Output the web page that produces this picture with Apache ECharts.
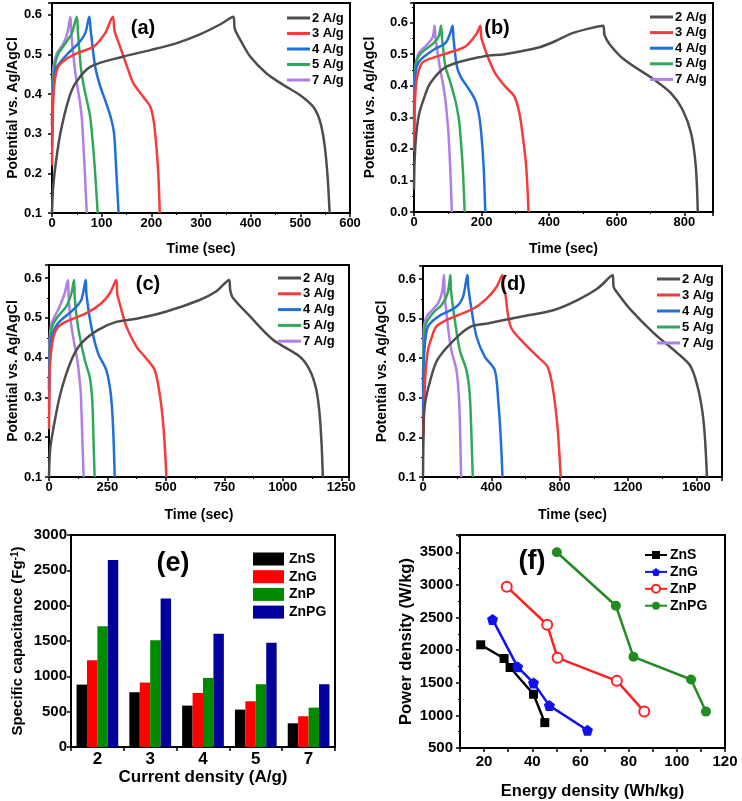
<!DOCTYPE html>
<html>
<head>
<meta charset="utf-8">
<script src="https://cdn.jsdelivr.net/npm/echarts@6/dist/echarts.min.js"></script>
<style>
  html, body { margin: 0; padding: 0; background: #fff; }
  #chart { width: 742px; height: 801px; }
</style>
</head>
<body>
<div id="chart"></div>
<script>
// ---- GCD curves, [time (s), potential (V)] ----
const rates = ['2 A/g', '3 A/g', '4 A/g', '5 A/g', '7 A/g'];

// (a)
const a2 = [[0,0.1],[2,0.16],[6.6,0.216],[16.7,0.30],[33,0.385],[47,0.427],[77,0.469],[144,0.495],[198,0.511],[250,0.528],[300,0.552],[340,0.577],[365,0.595],[368,0.565],[380,0.535],[399,0.495],[432,0.452],[466,0.423],[499,0.398],[526,0.368],[540,0.33],[549,0.27],[555,0.19],[559,0.1]];
const a3 = [[0,0.22],[1.5,0.33],[3,0.4],[7,0.445],[13,0.47],[30,0.49],[50,0.503],[84,0.52],[107,0.554],[122.6,0.595],[126,0.56],[137,0.52],[151,0.47],[164,0.427],[184,0.393],[198,0.368],[205,0.33],[210,0.27],[214,0.2],[217,0.1]];
const a4 = [[0,0.27],[1.5,0.38],[3,0.42],[6,0.46],[10,0.47],[30,0.5],[53,0.528],[67,0.554],[75,0.595],[78,0.56],[87,0.469],[97,0.42],[107,0.385],[118,0.343],[125,0.30],[129,0.216],[134,0.1]];
const a5 = [[0,0.32],[1.5,0.41],[3,0.45],[7,0.48],[13,0.503],[27,0.528],[40,0.554],[50,0.595],[52,0.56],[58,0.469],[64,0.42],[70,0.385],[76,0.35],[80.5,0.30],[86,0.216],[92,0.1]];
const a7 = [[0,0.32],[1,0.42],[3,0.47],[10,0.503],[23,0.528],[31,0.554],[37,0.595],[39,0.55],[45.5,0.469],[51,0.42],[55.6,0.385],[60,0.34],[62,0.30],[65.6,0.216],[70,0.1]];

// (b)
const b2 = [[0,0.07],[2,0.17],[7,0.25],[15,0.31],[28,0.355],[48,0.408],[98,0.461],[206,0.493],[268,0.5],[366,0.52],[416,0.54],[465,0.565],[514,0.58],[560,0.59],[564,0.56],[580,0.53],[623,0.482],[711,0.419],[760,0.377],[795,0.324],[820,0.25],[834,0.145],[840,0.0]];
const b3 = [[0,0.19],[1.5,0.28],[3,0.35],[8,0.42],[24,0.472],[60,0.49],[98,0.503],[152,0.524],[186,0.566],[196,0.59],[200,0.55],[219,0.49],[240,0.44],[268,0.40],[297,0.366],[312,0.313],[322,0.24],[332,0.145],[339,0.0]];
const b4 = [[0,0.25],[1.5,0.36],[3,0.42],[8,0.46],[19,0.482],[58,0.514],[93,0.535],[107,0.566],[114,0.59],[117,0.55],[127,0.461],[140,0.425],[157,0.398],[181,0.355],[192,0.31],[199,0.25],[206,0.145],[211,0.0]];
const b5 = [[0,0.29],[1.5,0.39],[3,0.44],[8,0.48],[21,0.503],[58,0.535],[73,0.556],[80,0.59],[83,0.55],[93,0.461],[105,0.42],[122,0.355],[132,0.3],[137,0.25],[144,0.145],[150,0.0]];
const b7 = [[0,0.3],[1,0.4],[3,0.45],[7,0.48],[14,0.503],[43,0.535],[56,0.556],[61,0.59],[64,0.55],[76,0.461],[85,0.41],[93,0.355],[98,0.3],[102,0.25],[107,0.145],[112,0.0]];

// (c)
const c2 = [[0,0.1],[5,0.17],[20,0.226],[49,0.31],[96,0.394],[138,0.436],[210,0.47],[288,0.49],[374,0.498],[502,0.516],[644,0.545],[716,0.567],[770,0.595],[775,0.57],[787,0.55],[858,0.505],[958,0.445],[1072,0.403],[1115,0.369],[1143,0.32],[1157,0.26],[1166,0.18],[1171,0.1]];
const c3 = [[0,0.22],[2,0.32],[4,0.38],[15,0.44],[30,0.47],[60,0.487],[160,0.512],[224,0.537],[260,0.562],[288,0.595],[292,0.56],[302,0.537],[331,0.478],[374,0.428],[416,0.398],[452,0.369],[473,0.31],[487,0.243],[496,0.17],[502,0.1]];
const c4 = [[0,0.27],[2,0.37],[4,0.42],[15,0.46],[39,0.487],[103,0.52],[138,0.545],[157,0.595],[160,0.56],[181,0.478],[210,0.411],[245,0.369],[264,0.31],[274,0.226],[281,0.1]];
const c5 = [[0,0.32],[2,0.4],[4,0.44],[12,0.475],[32,0.499],[74,0.529],[96,0.562],[107,0.595],[110,0.55],[124,0.478],[153,0.394],[174,0.352],[185,0.293],[190,0.2],[195,0.1]];
const c7 = [[0,0.32],[1.5,0.41],[3,0.45],[10,0.485],[24,0.503],[46,0.529],[67,0.562],[81,0.595],[84,0.55],[96,0.478],[121,0.394],[130,0.35],[136,0.31],[141,0.226],[148,0.1]];

// (d)
const d2 = [[0,0.1],[3,0.2],[10,0.28],[40,0.34],[84,0.396],[181,0.446],[279,0.48],[377,0.488],[572,0.505],[767,0.522],[904,0.547],[1021,0.576],[1110,0.61],[1116,0.58],[1138,0.565],[1216,0.522],[1352,0.463],[1489,0.413],[1567,0.379],[1616,0.312],[1645,0.228],[1662,0.1]];
const d3 = [[0,0.2],[8,0.3],[16,0.37],[29,0.42],[49,0.45],[78,0.48],[156,0.5],[293,0.525],[371,0.55],[430,0.58],[465,0.61],[470,0.58],[481,0.564],[513,0.48],[591,0.438],[670,0.404],[728,0.379],[758,0.329],[787,0.228],[806,0.1]];
const d4 = [[0,0.25],[4,0.38],[10,0.43],[29,0.48],[88,0.505],[195,0.53],[234,0.555],[260,0.61],[265,0.58],[285,0.52],[313,0.455],[361,0.404],[420,0.37],[440,0.295],[455,0.2],[465,0.1]];
const d5 = [[0,0.32],[3,0.42],[8,0.46],[20,0.49],[60,0.515],[110,0.535],[145,0.565],[160,0.61],[164,0.57],[186,0.497],[215,0.421],[254,0.37],[273,0.312],[284,0.2],[291,0.1]];
const d7 = [[0,0.33],[2,0.43],[6,0.48],[20,0.505],[50,0.52],[90,0.54],[113,0.57],[123,0.61],[127,0.56],[146,0.48],[166,0.42],[196,0.37],[211,0.295],[218,0.2],[223,0.1]];

// (e) specific capacitance (F/g)
const eCats = ['2', '3', '4', '5', '7'];
const eZnS  = [883, 775, 586, 529, 335];
const eZnG  = [1228, 912, 765, 647, 435];
const eZnP  = [1710, 1512, 978, 888, 557];
const eZnPG = [2645, 2102, 1601, 1474, 888];

// (f) Ragone, [energy (Wh/kg), power (W/kg)]
const fZnS  = [[18.6,2082],[28.3,1872],[30.8,1734],[40.5,1324],[45.2,889]];
const fZnG  = [[23.5,2471],[33.9,1744],[40.5,1498],[47.1,1150],[62.9,771]];
const fZnP  = [[29.4,2973],[46.2,2389],[50.5,1882],[75.1,1529],[86.5,1058]];
const fZnPG = [[50.2,3500],[74.7,2681],[82.0,1898],[105.9,1550],[112.1,1058]];

const materials = ['ZnS', 'ZnG', 'ZnP', 'ZnPG'];

// ---- styling ----
const FONT = 'Liberation Sans, Arial, sans-serif';
const rateColors = ['#4d4d4d', '#f53b3b', '#1f6fdb', '#30a85a', '#b07ee8'];
const barColors = ['#000000', '#ff0000', '#008a00', '#00009c'];
const ragoneColors = ['#000000', '#1010f0', '#ff2020', '#228b22'];
const pentagon = 'path://M0,-10 L9.51,-3.09 L5.88,8.09 L-5.88,8.09 L-9.51,-3.09 Z';

function onlyMultiples(step, digits) {
  return function (v) {
    const k = v / step;
    if (Math.abs(k - Math.round(k)) > 1e-6) return '';
    return digits == null ? String(Math.round(v)) : v.toFixed(digits);
  };
}

function valueAxis(gi, opt) {
  return {
    type: 'value', gridIndex: gi,
    min: opt.min, max: opt.max, interval: opt.interval,
    name: opt.name, nameLocation: 'middle', nameGap: opt.nameGap,
    nameTextStyle: Object.assign({ fontFamily: FONT, fontWeight: 'bold', fontSize: opt.nameSize || 14, color: '#000' }, opt.nameExtra || {}),
    axisLine: { show: true, onZero: false, lineStyle: { color: '#000', width: 2 } },
    axisTick: { show: true, length: 4, lineStyle: { color: '#000', width: 1.5 } },
    minorTick: { show: !!opt.minor, splitNumber: 2, length: 2, lineStyle: { color: '#000', width: 1 } },
    splitLine: { show: false },
    axisLabel: {
      fontFamily: FONT, fontWeight: 'bold', fontSize: opt.labelSize || 13, color: '#000',
      margin: opt.margin, formatter: onlyMultiples(opt.labelStep || opt.interval, opt.digits)
    }
  };
}

const grids = [
  { left: 52,  top: 3,   width: 298, height: 210 },
  { left: 414, top: 3,   width: 299, height: 209 },
  { left: 49,  top: 265, width: 300, height: 212 },
  { left: 423, top: 266, width: 299, height: 211 },
  { left: 71,  top: 535, width: 264, height: 212 },
  { left: 460, top: 535, width: 265, height: 213 }
].map(g => Object.assign({ show: true, borderColor: '#000', borderWidth: 2, backgroundColor: '#fff', containLabel: false }, g));

const gcdPanels = [
  { curves: [a2, a3, a4, a5, a7], xMax: 600,  xInt: 100, yMin: 0.1, yMax: 0.63, xGap: 29, yGap: 32, legendLeft: 282, legendTop: 6,   legendGap: 1.5 },
  { curves: [b2, b3, b4, b5, b7], xMax: 885,  xInt: 200, yMin: 0.0, yMax: 0.662, xGap: 30, yGap: 37, legendLeft: 645, legendTop: 5,   legendGap: 1.6 },
  { curves: [c2, c3, c4, c5, c7], xMax: 1283, xInt: 250, yMin: 0.1, yMax: 0.633, xGap: 31, yGap: 28, legendLeft: 273, legendTop: 266, legendGap: 1.8 },
  { curves: [d2, d3, d4, d5, d7], xMax: 1750, xInt: 400, yMin: 0.1, yMax: 0.633, xGap: 31, yGap: 34, legendLeft: 652, legendTop: 267, legendGap: 2 }
];
const yMargins = [10, 6, 7, 7];

const xAxis = [], yAxis = [], series = [], legend = [];

// Ragone series first so the (f) legend picks up line + symbol icons
const fData = [fZnS, fZnG, fZnP, fZnPG];
const fSymbols = ['rect', pentagon, 'emptyCircle', 'circle'];
const fSizes = [9, 11, 10, 10];
materials.forEach((m, i) => {
  series.push({
    type: 'line', name: m, xAxisIndex: 5, yAxisIndex: 5, data: fData[i],
    symbol: fSymbols[i], symbolSize: fSizes[i], showSymbol: true,
    lineStyle: { color: ragoneColors[i], width: 2.5 },
    itemStyle: { color: ragoneColors[i], borderColor: ragoneColors[i], borderWidth: i === 2 ? 2 : 0 },
    animation: false, z: 3
  });
});

gcdPanels.forEach((p, gi) => {
  xAxis.push(valueAxis(gi, {
    min: 0, max: p.xMax, interval: p.xInt, name: 'Time (sec)', nameGap: p.xGap,
    margin: 4, minor: true
  }));
  yAxis.push(valueAxis(gi, {
    min: p.yMin, max: p.yMax, interval: 0.1, name: 'Potential vs. Ag/AgCl', nameGap: p.yGap,
    margin: yMargins[gi], digits: 1, minor: true
  }));
  p.curves.forEach((c, i) => {
    series.push({
      type: 'line', name: rates[i], xAxisIndex: gi, yAxisIndex: gi, data: c,
      showSymbol: false, symbol: 'none', smooth: 0.3,
      lineStyle: { color: rateColors[i], width: 2.5 },
      itemStyle: { color: rateColors[i] },
      animation: false, z: 2 + (4 - i) * 0.01
    });
  });
  legend.push({
    data: rates, orient: 'vertical', left: p.legendLeft, top: p.legendTop,
    icon: 'rect', itemWidth: 23, itemHeight: 3, itemGap: p.legendGap, selectedMode: false,
    textStyle: { fontFamily: FONT, fontWeight: 'bold', fontSize: 13, lineHeight: 14, color: '#000', padding: [0, 0, 0, -3] }
  });
});

// (e) axes
xAxis.push({
  type: 'category', gridIndex: 4, data: eCats,
  name: 'Current density (A/g)', nameLocation: 'middle', nameGap: 19,
  nameTextStyle: { fontFamily: FONT, fontWeight: 'bold', fontSize: 17, color: '#000' },
  axisLine: { lineStyle: { color: '#000', width: 2 } },
  axisTick: { show: true, length: 4, lineStyle: { color: '#000', width: 1.5 } },
  axisLabel: { fontFamily: FONT, fontWeight: 'bold', fontSize: 17, color: '#000', margin: 4 }
});
yAxis.push(valueAxis(4, {
  min: 0, max: 3000, interval: 500, name: 'Specific capacitance (Fg{sup|-1})', nameGap: 46,
  nameSize: 15, labelSize: 15, margin: 4,
  nameExtra: { rich: { sup: { fontFamily: FONT, fontWeight: 'bold', fontSize: 10, verticalAlign: 'top', lineHeight: 10 } } }
}));

// (f) axes
xAxis.push(valueAxis(5, {
  min: 10, max: 120, interval: 10, labelStep: 20, name: 'Energy density (Wh/kg)', nameGap: 35,
  nameSize: 16.5, labelSize: 15, margin: 6
}));
yAxis.push(valueAxis(5, {
  min: 500, max: 3765, interval: 500, name: 'Power density (W/kg)', nameGap: 45,
  nameSize: 16.5, labelSize: 15, margin: 7, minor: true
}));

const eData = [eZnS, eZnG, eZnP, eZnPG];
materials.forEach((m, i) => {
  series.push({
    type: 'bar', name: m, xAxisIndex: 4, yAxisIndex: 4, data: eData[i],
    barGap: 0, barCategoryGap: '21%',
    itemStyle: { color: barColors[i] }, animation: false
  });
});

legend.push({
  data: materials.map((m, i) => ({ name: m, itemStyle: { color: barColors[i], borderWidth: 0, borderColor: barColors[i] } })),
  icon: 'rect', orient: 'vertical', left: 248, top: 547,
  itemWidth: 31, itemHeight: 13, itemGap: 3.7, selectedMode: false,
  textStyle: { fontFamily: FONT, fontWeight: 'bold', fontSize: 14, lineHeight: 14, color: '#000' }
});
legend.push({
  data: materials, orient: 'vertical', left: 639, top: 543,
  itemWidth: 22, itemHeight: 10, itemGap: 2.9, selectedMode: false,
  textStyle: { fontFamily: FONT, fontWeight: 'bold', fontSize: 14, lineHeight: 14, color: '#000', padding: [0, 0, 0, -2] }
});

// panel tags
const tags = [['(a)', 143, 28, 20], ['(b)', 497, 28, 20], ['(c)', 148, 284, 20], ['(d)', 513, 284, 20], ['(e)', 173, 564, 27], ['(f)', 532, 562, 27]];
const graphic = tags.map(t => ({
  type: 'text', x: t[1], y: t[2], z: 10,
  style: { text: t[0], align: 'center', verticalAlign: 'middle', fill: '#000', font: 'bold ' + t[3] + 'px ' + FONT }
}));

const chart = echarts.init(document.getElementById('chart'), null, { renderer: 'canvas' });
chart.setOption({
  backgroundColor: '#fff',
  animation: false,
  textStyle: { fontFamily: FONT },
  grid: grids,
  xAxis: xAxis,
  yAxis: yAxis,
  legend: legend,
  series: series,
  graphic: graphic
});
</script>
</body>
</html>
